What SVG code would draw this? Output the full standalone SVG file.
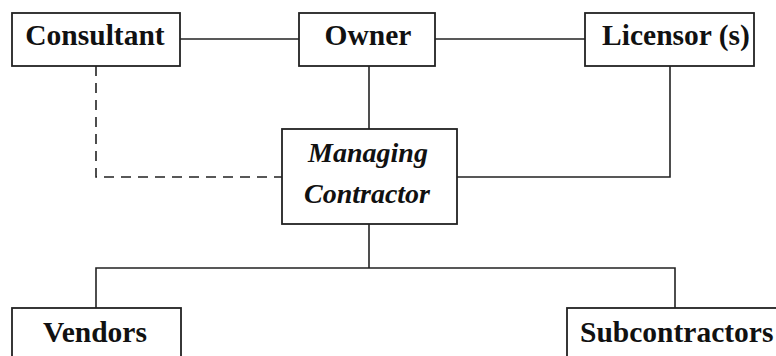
<svg xmlns="http://www.w3.org/2000/svg" width="776" height="356" viewBox="0 0 776 356">
<style>
.box{fill:#fff;stroke:#222;stroke-width:1.8}
.lbl{font-family:"Liberation Serif","Times New Roman",serif;font-weight:bold;font-size:29.5px;fill:#111}
.it{font-style:italic;font-size:28px}
.ln{fill:none;stroke:#222;stroke-width:1.6}
.dash{stroke-dasharray:10 7}
</style>
<rect width="776" height="356" fill="#fff"/>
<g id="connectors">
<line class="ln" x1="180" y1="39" x2="299" y2="39"/>
<line class="ln" x1="435" y1="39" x2="585" y2="39"/>
<line class="ln" x1="369" y1="66" x2="369" y2="129"/>
<polyline class="ln dash" points="96,66 96,177 282,177"/>
<polyline class="ln" points="457,177 670,177 670,66"/>
<line class="ln" x1="369" y1="224" x2="369" y2="268"/>
<polyline class="ln" points="96,308 96,268 675,268 675,308"/>
</g>
<g id="consultant">
<rect class="box" x="12" y="13" width="168" height="53"/>
<text class="lbl" x="95" y="45" text-anchor="middle">Consultant</text>
</g>
<g id="owner">
<rect class="box" x="299" y="13" width="136" height="53"/>
<text class="lbl" x="368" y="45" text-anchor="middle">Owner</text>
</g>
<g id="licensor">
<rect class="box" x="585" y="13" width="169" height="53"/>
<text class="lbl" x="676" y="45" text-anchor="middle">Licensor (s)</text>
</g>
<g id="managing-contractor">
<rect class="box" x="282" y="129" width="175" height="95"/>
<text class="lbl it" x="368" y="162" text-anchor="middle">Managing</text>
<text class="lbl it" x="367" y="203" text-anchor="middle">Contractor</text>
</g>
<g id="vendors">
<rect class="box" x="12" y="308" width="169" height="60"/>
<text class="lbl" x="95" y="342" text-anchor="middle">Vendors</text>
</g>
<g id="subcontractors">
<rect class="box" x="567" y="308" width="220" height="60"/>
<text class="lbl" x="580" y="342">Subcontractors</text>
</g>
</svg>
